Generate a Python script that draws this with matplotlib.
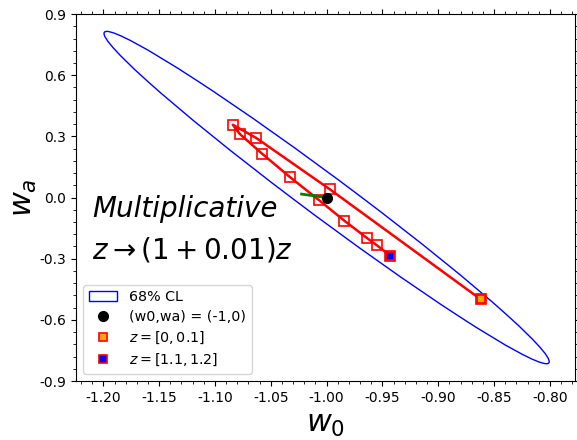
# -*- coding: utf-8 -*-
import matplotlib
matplotlib.use("Agg")
import matplotlib.pyplot as plt
from matplotlib.patches import Ellipse
from matplotlib.ticker import MultipleLocator

# fiducial point
w0_fid = -1.0
wa_fid = 0.0

# 68% CL ellipse (data units)
ell_width = 1.677
ell_height = 0.0615
ell_angle = -76.4

# bias path for the shifted redshift bins, z = [0,0.1] ... [1.1,1.2]
w0_shift = [-0.862, -0.997, -1.063, -1.084, -1.078, -1.058, -1.033, -1.007, -0.984, -0.964, -0.955, -0.943]
wa_shift = [-0.499, 0.040, 0.292, 0.357, 0.313, 0.216, 0.101, -0.012, -0.114, -0.198, -0.234, -0.285]

# small green step off the fiducial
w0_step = [-1.0224, -1.0]
wa_step = [0.017, 0.0]

plt.rcParams['axes.unicode_minus'] = False

fig = plt.figure(figsize=(5.77, 4.40), dpi=100)
ax = fig.add_axes([0.1317, 0.134, 0.8648, 0.834])

ell = Ellipse((w0_fid, wa_fid), ell_width, ell_height, angle=ell_angle,
              fill=False, edgecolor='b', lw=1.0, label='68% CL')
ax.add_patch(ell)

ax.plot(w0_shift, wa_shift, '-', color='r', lw=1.8, marker='s', ms=7,
        mfc='none', mec='r', mew=1.2, zorder=3)
ax.plot(w0_step, wa_step, '-', color='g', lw=2.0, zorder=4)
ax.plot(w0_fid, wa_fid, 'o', color='k', ms=7, zorder=5, label='(w0,wa) = (-1,0)')
ax.plot(w0_shift[0], wa_shift[0], 's', ms=6, mfc='orange', mec='r', mew=1.2,
        zorder=5, label=r'$z = [0, 0.1]$')
ax.plot(w0_shift[-1], wa_shift[-1], 's', ms=6, mfc='b', mec='r', mew=1.2,
        zorder=5, label=r'$z = [1.1, 1.2]$')

ax.text(0.033, 0.448, 'Multiplicative', transform=ax.transAxes, fontsize=20,
        style='italic', ha='left', va='baseline')
ax.text(0.033, 0.334, r'$z \rightarrow (1 + 0.01)z$', transform=ax.transAxes,
        fontsize=20, ha='left', va='baseline')

ax.set_xlim(-1.2245, -0.7775)
ax.set_ylim(-0.9, 0.9)
ax.xaxis.set_major_locator(MultipleLocator(0.05))
ax.xaxis.set_minor_locator(MultipleLocator(0.01))
ax.yaxis.set_major_locator(MultipleLocator(0.3))
ax.yaxis.set_minor_locator(MultipleLocator(0.06))
ax.xaxis.set_major_formatter(matplotlib.ticker.FormatStrFormatter('%.2f'))
ax.yaxis.set_major_formatter(matplotlib.ticker.FormatStrFormatter('%.1f'))
ax.tick_params(which='both', top=True, right=True)

ax.set_xlabel(r'$w_0$', fontsize=22, labelpad=4)
ax.set_ylabel(r'$w_a$', fontsize=22, labelpad=0)

ax.legend(loc='lower left', fontsize=10.3, labelspacing=0.4)

plt.savefig('out.png', dpi=100)
